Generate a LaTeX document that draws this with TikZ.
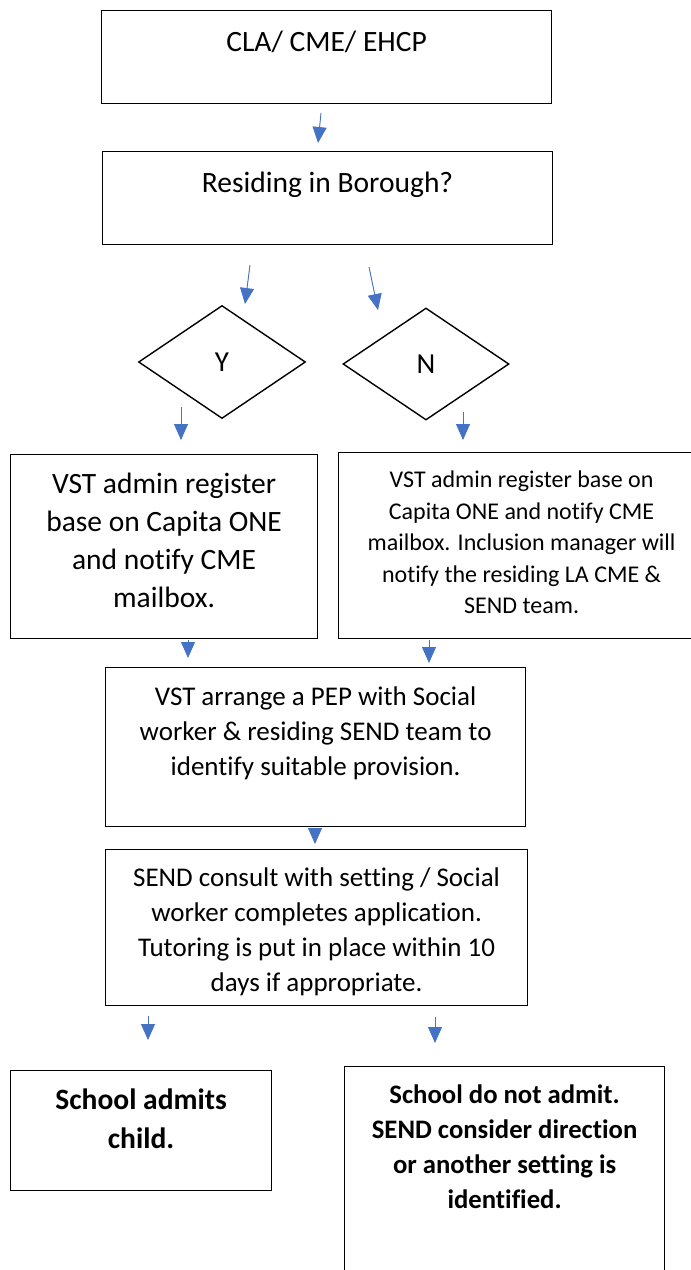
\documentclass[tikz,border=0pt]{standalone}
\usepackage{fontspec}
\setmainfont{Carlito}[Ligatures=NoCommon]
\usetikzlibrary{shapes.geometric, arrows.meta}

% box text: width, height, first baseline from top, text
\newcommand{\boxtxt}[4]{\parbox[t][#2][t]{#1}{\centering\rule{0pt}{#3}#4}}

\begin{document}
\begin{tikzpicture}[x=1pt, y=-1pt,
squarednode/.style={rectangle, draw=black, line width=1.2pt, inner sep=0pt, anchor=north west},
decisionnode/.style={diamond, draw=black, line width=1.4pt, inner sep=0pt, font=\fontsize{29}{32}\selectfont},
flow/.style={draw={rgb,255:red,68;green,114;blue,196}, line width=0.9pt,
  -{Triangle[width=14pt,length=16pt]}, fill={rgb,255:red,68;green,114;blue,196}},
]
\useasboundingbox (0,0) rectangle (691,1270);

\node[squarednode, font=\fontsize{29.5}{36}\selectfont] (entry) at (101,10)
  {\boxtxt{450pt}{93pt}{41pt}{CLA/ CME/ EHCP}};
\node[squarednode, font=\fontsize{29.5}{36}\selectfont] (borough) at (102,151)
  {\boxtxt{450pt}{93pt}{41pt}{Residing in Borough?}};

\node[decisionnode, minimum width=167pt, minimum height=113pt] (yes) at (222,362) {Y};
\node[decisionnode, minimum width=166pt, minimum height=112pt] (no) at (426,364) {N};

\node[squarednode, font=\fontsize{29.5}{38}\selectfont] (register) at (10,454)
  {\boxtxt{307pt}{184pt}{39pt}{VST admin register\\base on Capita ONE\\and notify CME\\mailbox.}};
\node[squarednode, font=\fontsize{24}{31.5}\selectfont] (notify) at (338,452)
  {\boxtxt{366pt}{186pt}{35pt}{VST admin register base on\\Capita ONE and notify CME\\mailbox. Inclusion manager will\\notify the residing LA CME \&\\SEND team.}};

\node[squarednode, font=\fontsize{27}{35}\selectfont] (pep) at (105,667)
  {\boxtxt{420pt}{159pt}{38pt}{VST arrange a PEP with Social\\worker \& residing SEND team to\\identify suitable provision.}};
\node[squarednode, font=\fontsize{27}{35}\selectfont] (consult) at (105,849)
  {\boxtxt{422pt}{156pt}{37pt}{SEND consult with setting / Social\\worker completes application.\\Tutoring is put in place within 10\\days if appropriate.}};

\node[squarednode, font=\bfseries\fontsize{29.5}{39}\selectfont] (admit) at (10,1070)
  {\boxtxt{261pt}{120pt}{39pt}{School admits\\child.}};
\node[squarednode, font=\bfseries\fontsize{26.7}{35}\selectfont] (noadmit) at (344,1066)
  {\boxtxt{320pt}{230pt}{37pt}{School do not admit.\\SEND consider direction\\or another setting is\\identified.}};

%Arrows
\coordinate (entryout) at (321,113);   \coordinate (boroughin) at (318,143);
\coordinate (boroughY) at (250,265);   \coordinate (yesin) at (245,304);
\coordinate (boroughN) at (369,267);   \coordinate (noin) at (378,310);
\coordinate (yesout) at (181,407);     \coordinate (registerin) at (181,440);
\coordinate (noout) at (463,412);      \coordinate (notifyin) at (463,440);
\coordinate (registerout) at (188,640); \coordinate (pepinL) at (188,658);
\coordinate (notifyout) at (429,640);  \coordinate (pepinR) at (429,663);
\coordinate (pepout) at (315,828);     \coordinate (consultin) at (315,844);
\coordinate (consultL) at (148,1016);  \coordinate (admitin) at (148,1040);
\coordinate (consultR) at (435,1017);  \coordinate (noadmitin) at (435,1043);

\draw[flow] (entryout) -- (boroughin);
\draw[flow] (boroughY) -- (yesin);
\draw[flow] (boroughN) -- (noin);
\draw[flow] (yesout) -- (registerin);
\draw[flow] (noout) -- (notifyin);
\draw[flow] (registerout) -- (pepinL);
\draw[flow] (notifyout) -- (pepinR);
\draw[flow] (pepout) -- (consultin);
\draw[flow] (consultL) -- (admitin);
\draw[flow] (consultR) -- (noadmitin);
\end{tikzpicture}
\end{document}
